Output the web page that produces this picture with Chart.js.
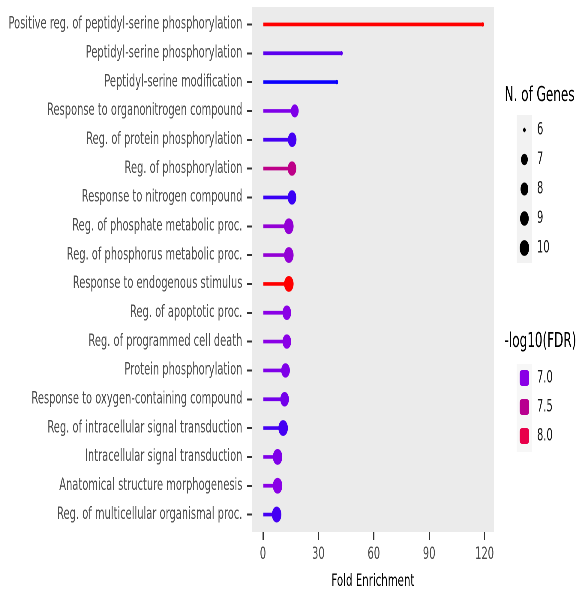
<!DOCTYPE html>
<html>
<head>
<meta charset="utf-8">
<script src="https://cdn.jsdelivr.net/npm/chart.js@4/dist/chart.umd.min.js"></script>
<style>
  html, body { margin: 0; padding: 0; overflow: hidden; background: #fff; }
  /* the original figure is squeezed sideways, so draw wide and squeeze */
  #wrap { width: 960px; height: 594px; transform: scaleX(0.6); transform-origin: 0 0; }
</style>
</head>
<body>
<div id="wrap"><canvas id="myChart"></canvas></div>
<script>
const terms = [
  "Positive reg. of peptidyl-serine phosphorylation",
  "Peptidyl-serine phosphorylation",
  "Peptidyl-serine modification",
  "Response to organonitrogen compound",
  "Reg. of protein phosphorylation",
  "Reg. of phosphorylation",
  "Response to nitrogen compound",
  "Reg. of phosphate metabolic proc.",
  "Reg. of phosphorus metabolic proc.",
  "Response to endogenous stimulus",
  "Reg. of apoptotic proc.",
  "Reg. of programmed cell death",
  "Protein phosphorylation",
  "Response to oxygen-containing compound",
  "Reg. of intracellular signal transduction",
  "Intracellular signal transduction",
  "Anatomical structure morphogenesis",
  "Reg. of multicellular organismal proc."
];
const foldEnrichment = [119, 42.5, 40, 17.2, 15.8, 15.7, 15.7, 14, 14, 14, 12.9, 12.9, 12.2, 11.7, 10.9, 7.9, 7.9, 7.4];
const nGenes = [6, 6, 6, 8, 9, 9, 9, 10, 10, 10, 9, 9, 9, 9, 10, 10, 10, 10];
const log10FDR = [8.3, 6.8, 6.45, 6.95, 6.7, 7.55, 6.65, 7.1, 7.1, 8.3, 7.0, 7.0, 6.95, 6.9, 6.7, 6.95, 7.0, 6.7];

const xTicks = [0, 30, 60, 90, 120];
const genesLegend = [6, 7, 8, 9, 10];
const fdrLegend = [7.0, 7.5, 8.0];

// size and colour scales
const radiusFor = { 6: 2.2, 7: 5.6, 8: 6.5, 9: 7.2, 10: 7.9 };
const colourStops = [
  [6.4, [0, 0, 255]],
  [7.0, [138, 0, 230]],
  [7.5, [184, 0, 143]],
  [8.0, [232, 0, 74]],
  [8.3, [255, 0, 0]]
];
function fdrColour(v) {
  if (v <= colourStops[0][0]) return "rgb(0,0,255)";
  for (let i = 1; i < colourStops.length; i++) {
    if (v <= colourStops[i][0]) {
      const a = colourStops[i - 1], b = colourStops[i];
      const t = (v - a[0]) / (b[0] - a[0]);
      const c = a[1].map((x, k) => Math.round(x + (b[1][k] - x) * t));
      return "rgb(" + c.join(",") + ")";
    }
  }
  return "rgb(255,0,0)";
}
const colours = log10FDR.map(fdrColour);

const FONT = "'DejaVu Sans', sans-serif";
const TXT = 16.5;

const panelPlugin = {
  id: "panel",
  beforeDatasetsDraw(chart) {
    const a = chart.chartArea, ctx = chart.ctx;
    ctx.save();
    ctx.fillStyle = "#EBEBEB";
    ctx.fillRect(a.left, a.top - 3, a.right - a.left, a.bottom - a.top + 6);
    ctx.restore();
  },
  afterDraw(chart) {
    const ctx = chart.ctx;
    const keyX = 873;
    ctx.save();
    ctx.textBaseline = "middle";
    ctx.textAlign = "left";

    // N. of Genes
    ctx.fillStyle = "#000";
    ctx.font = "20px " + FONT;
    ctx.fillText("N. of Genes", 841, 96);
    ctx.fillStyle = "#F2F2F2";
    ctx.fillRect(keyX - 12, 115, 26, 148);
    ctx.font = TXT + "px " + FONT;
    genesLegend.forEach((g, i) => {
      const y = 130 + i * 29.5;
      ctx.fillStyle = "#000";
      ctx.beginPath();
      ctx.arc(keyX + 1, y, radiusFor[g], 0, Math.PI * 2);
      ctx.fill();
      ctx.fillStyle = "#1A1A1A";
      ctx.fillText(String(g), 895, y);
    });

    // -log10(FDR)
    ctx.fillStyle = "#000";
    ctx.font = "20px " + FONT;
    ctx.fillText("-log10(FDR)", 841, 342);
    ctx.fillStyle = "#F7F7F7";
    ctx.fillRect(keyX - 12, 364, 26, 88);
    ctx.font = TXT + "px " + FONT;
    fdrLegend.forEach((f, i) => {
      const y = 378 + i * 29;
      ctx.fillStyle = fdrColour(f);
      ctx.beginPath();
      ctx.roundRect(keyX - 7, y - 8, 16, 16, 4);
      ctx.fill();
      ctx.fillStyle = "#1A1A1A";
      ctx.fillText(f.toFixed(1), 895, y);
    });
    ctx.restore();
  }
};

new Chart("myChart", {
  type: "bar",
  data: {
    labels: terms,
    datasets: [
      {
        type: "line",
        data: foldEnrichment,
        showLine: false,
        pointRadius: nGenes.map(g => radiusFor[g]),
        pointHoverRadius: nGenes.map(g => radiusFor[g]),
        pointBackgroundColor: colours,
        pointBorderWidth: 0,
        order: 0
      },
      {
        type: "bar",
        data: foldEnrichment,
        backgroundColor: colours,
        barThickness: 3,
        order: 1
      }
    ]
  },
  options: {
    indexAxis: "y",
    responsive: true,
    maintainAspectRatio: false,
    animation: false,
    devicePixelRatio: 2,
    layout: { padding: { top: 10, right: 137, left: 0, bottom: 0 } },
    plugins: {
      legend: { display: false },
      tooltip: { enabled: false }
    },
    scales: {
      x: {
        type: "linear",
        min: -5.95,
        max: 125,
        afterBuildTicks: (s) => { s.ticks = xTicks.map(v => ({ value: v })); },
        afterFit: (s) => { s.height = 65; s.paddingLeft = 0; s.paddingRight = 0; },
        border: { display: false },
        grid: { drawOnChartArea: false, drawTicks: true, tickLength: 11, color: "#333", lineWidth: 2 },
        ticks: { color: "#4D4D4D", font: { family: FONT, size: TXT }, padding: 5, maxRotation: 0 },
        title: { display: true, text: "Fold Enrichment", color: "#000", font: { family: FONT, size: 17 }, padding: { top: 0, bottom: 2 } }
      },
      y: {
        type: "category",
        afterFit: (s) => { s.width = 420; s.paddingTop = 0; s.paddingBottom = 0; },
        border: { display: false },
        grid: { offset: false, drawOnChartArea: false, drawTicks: true, tickLength: 8, color: "#333", lineWidth: 2 },
        ticks: { color: "#4D4D4D", font: { family: FONT, size: TXT }, padding: 8, autoSkip: false }
      }
    }
  },
  plugins: [panelPlugin]
});
</script>
</body>
</html>
